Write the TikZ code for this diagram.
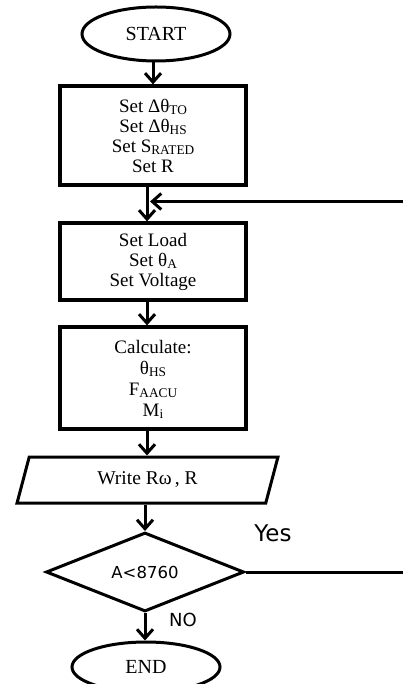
\documentclass[tikz,border=0pt]{standalone}
\usepackage{fontspec}
\setmainfont{Liberation Serif}
\newfontfamily\labelfont{DejaVu Sans}
\usetikzlibrary{shapes.geometric,arrows.meta}
\newcommand\lowsub[1]{\raisebox{-0.15em}[0pt][0pt]{\fontsize{0.7em}{1em}\selectfont #1}}
\begin{document}
\begin{tikzpicture}[x=1pt,y=-1pt,
  arr/.style={line width=3pt, -{Straight Barb[length=9pt,width=16pt,line width=3pt]}},
  proc/.style={draw,line width=3.2pt,rectangle,minimum width=186pt,align=center,inner sep=0pt},
  term/.style={draw,line width=3pt,ellipse,minimum width=148pt,minimum height=54pt,inner sep=0pt,font=\fontsize{20}{22}\selectfont},
  lab/.style={font=\labelfont\fontsize{18}{20}\selectfont}
]
\useasboundingbox (0,0) rectangle (403,684);
\node[term] (start) at (156,34) {START};
\node[proc, minimum height=99pt, font=\fontsize{19}{20}\selectfont] (b1) at (153,135.5)
  {Set Δθ\lowsub{TO}\\Set Δθ\lowsub{HS}\\Set S\lowsub{RATED}\\Set R};
\node[proc, minimum height=77pt, font=\fontsize{19}{20}\selectfont] (b2) at (153,261.5)
  {Set Load\\Set θ\lowsub{A}\\Set Voltage};
\node[proc, minimum height=102pt, font=\fontsize{19}{21}\selectfont] (b3) at (153,378)
  {Calculate:\\θ\lowsub{HS}\\F\lowsub{AACU}\\M\lowsub{i}};
\node[trapezium, trapezium left angle=72, trapezium right angle=108, trapezium stretches=true,
  minimum width=261pt, minimum height=46pt, draw, line width=3pt, inner sep=0pt,
  font=\fontsize{19.5}{21}\selectfont] (w) at (147.5,480) {Write Rω\,, R};
\node[diamond, draw, line width=3pt, minimum width=198pt, minimum height=79pt, aspect=2.5,
  inner sep=0pt, font=\labelfont\fontsize{16.5}{18}\selectfont] (d) at (145,572) {A<8760};
\node[term, minimum height=50pt] (e) at (146,667) {END};
\node[font=\labelfont\fontsize{23}{25}\selectfont] (yes) at (273,533) {Yes};
\node[lab] (no) at (183,620) {NO};

\coordinate (c1) at (405,572);
\coordinate (c2) at (405,201.5);
\coordinate (ret) at (150,201.5);

\draw[arr] (b1.north |- start.south) -- (b1.north);
\draw[arr] ([xshift=-6pt]b1.south) -- ([xshift=-6pt]b2.north);
\draw[arr] ([xshift=-6pt]b2.south) -- ([xshift=-6pt]b3.north);
\draw[arr] ([xshift=-6pt]b3.south) -- ([xshift=-6pt]b3.south |- w.north);
\draw[arr] (d.north |- w.south) -- (d.north);
\draw[arr] ([xshift=-1pt]e.north |- d.south) -- ([xshift=-1pt]e.north);
\draw[arr] (d.east) -- (c1) -- (c2) -- (ret);
\end{tikzpicture}
\end{document}
